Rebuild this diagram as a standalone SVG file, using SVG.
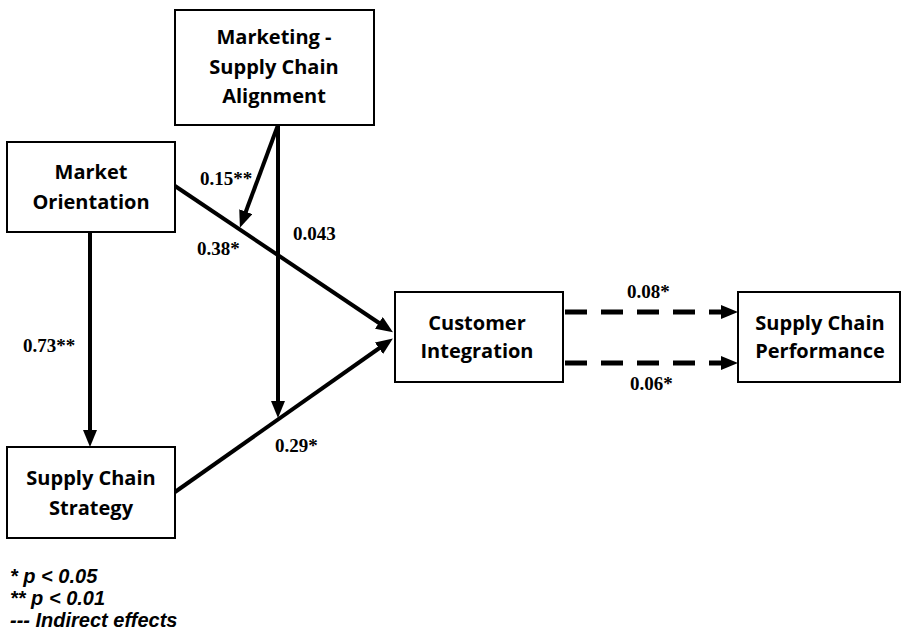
<svg xmlns="http://www.w3.org/2000/svg" width="905" height="634" viewBox="0 0 905 634">
<style>
.box{fill:#fff;stroke:#000;stroke-width:2}
.nt{font-family:"Open Sans","Liberation Sans",sans-serif;font-weight:bold;font-size:20px;text-anchor:middle;fill:#000}
.lb{font-family:"Liberation Serif","Times New Roman",serif;font-weight:bold;font-size:19px;fill:#000}
.lg{font-family:"Liberation Sans",Arial,sans-serif;font-weight:bold;font-style:italic;font-size:20px;fill:#000}
.c{fill:none;stroke:#000;stroke-width:4}
.d{fill:none;stroke:#000;stroke-width:5;stroke-dasharray:22 14}
</style>
<defs>
<marker id="ah" markerUnits="userSpaceOnUse" markerWidth="17" markerHeight="14" refX="11" refY="7" orient="auto">
<path d="M0,0 L17,7 L0,14 z" fill="#000"/>
</marker>
</defs>
<rect width="905" height="634" fill="#fff"/>
<g id="connectors">
<line class="c" x1="90" y1="232" x2="90" y2="441" marker-end="url(#ah)"/>
<line class="c" x1="175" y1="186" x2="388" y2="329" marker-end="url(#ah)"/>
<line class="c" x1="175" y1="492" x2="388" y2="342" marker-end="url(#ah)"/>
<line class="c" x1="278" y1="125" x2="242" y2="222" marker-end="url(#ah)"/>
<line class="c" x1="278" y1="125" x2="278" y2="412" marker-end="url(#ah)"/>
<line class="d" x1="565" y1="312" x2="732" y2="312" marker-end="url(#ah)"/>
<line class="d" x1="565" y1="363" x2="732" y2="363" marker-end="url(#ah)"/>
<text class="lb" x="200" y="185">0.15**</text>
<text class="lb" x="197" y="255">0.38*</text>
<text class="lb" x="293" y="240">0.043</text>
<text class="lb" x="23" y="352">0.73**</text>
<text class="lb" x="275" y="452">0.29*</text>
<text class="lb" x="627" y="298">0.08*</text>
<text class="lb" x="630" y="390">0.06*</text>
</g>
<g id="marketing-alignment">
<rect class="box" x="175" y="10" width="199" height="115"/>
<text class="nt" x="274" y="44">Marketing -</text>
<text class="nt" x="274" y="74">Supply Chain</text>
<text class="nt" x="274" y="103">Alignment</text>
</g>
<g id="market-orientation">
<rect class="box" x="7" y="142" width="168" height="90"/>
<text class="nt" x="91" y="179">Market</text>
<text class="nt" x="91" y="209">Orientation</text>
</g>
<g id="supply-chain-strategy">
<rect class="box" x="7" y="447" width="168" height="91"/>
<text class="nt" x="91" y="485">Supply Chain</text>
<text class="nt" x="91" y="515">Strategy</text>
</g>
<g id="customer-integration">
<rect class="box" x="395" y="292" width="168" height="90"/>
<text class="nt" x="477" y="330">Customer</text>
<text class="nt" x="477" y="358">Integration</text>
</g>
<g id="supply-chain-performance">
<rect class="box" x="738" y="292" width="162" height="90"/>
<text class="nt" x="820" y="330">Supply Chain</text>
<text class="nt" x="820" y="358">Performance</text>
</g>
<g id="legend">
<text class="lg" x="10" y="583">* p &lt; 0.05</text>
<text class="lg" x="10" y="605">** p &lt; 0.01</text>
<text class="lg" x="10" y="627">--- Indirect effects</text>
</g>
</svg>
